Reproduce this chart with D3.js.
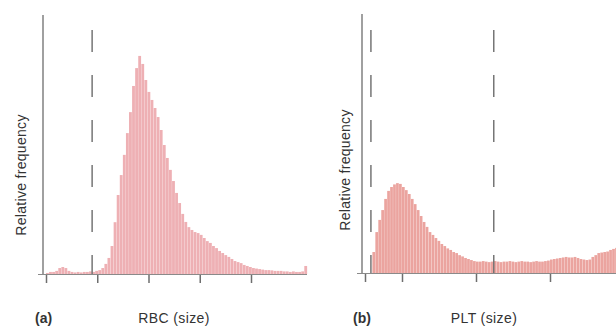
<!DOCTYPE html>
<html>
<head>
<meta charset="utf-8">
<script src="https://cdn.jsdelivr.net/npm/d3@7"></script>
<style>
  html, body { margin: 0; padding: 0; background: #fff; }
  svg { display: block; }
  text { font-family: 'Liberation Sans', Arial, sans-serif; fill: #333; }
</style>
</head>
<body>
<div id="chart"></div>
<script>
// RBC histogram: bins of 3 size units starting at 0
const rbcBinWidth = 3;
const rbcValues = [
  0.4, 0.8, 0.8, 1.2, 2.3, 2.7, 2.3, 1.2, 0.8, 0.6,
  0.8, 0.6, 0.8, 0.8, 1.0, 0.8, 1.2, 1.5, 2.3, 3.9,
  6.2, 10.8, 20.0, 30.5, 38.2, 46.0, 54.4, 62.5, 72.6, 79.5,
  84.2, 81.1, 74.9, 70.3, 67.2, 64.1, 60.6, 55.6, 49.8, 44.8,
  40.2, 35.9, 31.3, 27.4, 23.2, 20.1, 18.1, 17.0, 16.2, 15.8,
  15.1, 13.9, 12.7, 12.0, 10.8, 10.0, 8.9, 8.1, 7.3, 6.6,
  5.8, 5.0, 4.6, 4.2, 3.5, 3.1, 2.7, 2.3, 2.1, 1.9,
  1.7, 1.5, 1.5, 1.4, 1.2, 1.2, 1.2, 1.0, 1.0, 0.8,
  1.0, 0.8, 0.8, 1.0, 3.1
];
const rbcTicks = [0, 50, 100, 150, 200];
const rbcThresholds = [45];

// PLT histogram: bins of 0.4 size units starting at 1.0
const pltStart = 1.0;
const pltBinWidth = 0.4;
const pltValues = [
  8.1, 15.8, 20.5, 24.3, 28.6, 31.7, 33.2, 34.2, 34.7, 34.4,
  33.2, 32.0, 30.5, 28.6, 26.6, 24.3, 22.0, 19.7, 17.8, 15.8,
  14.7, 13.5, 12.4, 11.2, 10.4, 9.5, 8.9, 8.1, 7.7, 6.9,
  6.4, 5.8, 5.4, 5.0, 4.6, 4.4, 4.4, 4.6, 4.4, 4.2,
  4.4, 4.6, 4.4, 4.2, 4.4, 4.4, 4.6, 4.4, 4.2, 4.4,
  4.6, 4.4, 4.4, 4.2, 4.4, 4.6, 4.4, 4.4, 4.6, 4.8,
  5.2, 5.4, 5.6, 5.8, 6.0, 6.2, 6.0, 6.0, 6.2, 5.8,
  5.4, 5.2, 5.0, 5.2, 6.2, 6.9, 7.7, 7.9, 8.1, 8.3,
  8.9, 9.3, 9.7
];
const pltTicks = [0, 5, 15, 25];
const pltThresholds = [0.8, 17.4];

const width = 616, height = 327;

const svg = d3.select('#chart')
  .append('svg')
  .attr('width', width)
  .attr('height', height);

function drawPanel(opts) {
  const g = svg.append('g');

  const x = d3.scaleLinear().domain(opts.xDomain).range(opts.xRange);
  const y = d3.scaleLinear().domain([0, 100]).range([opts.baseline, opts.top]);

  const bins = opts.values.map((v, i) => ({
    x0: opts.start + i * opts.binWidth,
    x1: opts.start + (i + 1) * opts.binWidth,
    v
  }));

  // bars (tiny gap leaves the faint vertical striping of the print)
  g.append('g')
    .selectAll('rect')
    .data(bins)
    .enter()
    .append('rect')
    .attr('x', d => x(d.x0))
    .attr('width', d => Math.max(0, x(d.x1) - x(d.x0) - 0.25))
    .attr('y', d => y(d.v))
    .attr('height', d => y(0) - y(d.v))
    .attr('fill', opts.color);

  // dashed threshold lines
  g.append('g')
    .selectAll('line')
    .data(opts.thresholds)
    .enter()
    .append('line')
    .attr('x1', d => x(d))
    .attr('x2', d => x(d))
    .attr('y1', opts.dashTop)
    .attr('y2', opts.baseline)
    .attr('stroke', '#767676')
    .attr('stroke-width', 1.5)
    .attr('stroke-dasharray', '22,23');

  // y axis line
  g.append('line')
    .attr('x1', opts.yAxisX).attr('x2', opts.yAxisX)
    .attr('y1', opts.top).attr('y2', opts.baseline)
    .attr('stroke', '#808080').attr('stroke-width', 1.5);

  // x axis baseline with small stub left of origin
  g.append('line')
    .attr('x1', opts.yAxisX - 5).attr('x2', opts.axisEnd)
    .attr('y1', opts.baseline + 0.5).attr('y2', opts.baseline + 0.5)
    .attr('stroke', '#8a8a8a').attr('stroke-width', 1.2);

  // ticks
  const axis = d3.axisBottom(x)
    .tickValues(opts.ticks)
    .tickSize(8)
    .tickSizeOuter(0)
    .tickFormat('');

  const ax = g.append('g')
    .attr('transform', `translate(0,${opts.baseline + 1})`)
    .call(axis);
  ax.select('.domain').remove();
  ax.selectAll('.tick line').attr('stroke', '#6e6e6e').attr('stroke-width', 1.5);

  // y label
  g.append('text')
    .attr('transform', `translate(${opts.yLabelX},${opts.yLabelY}) rotate(-90)`)
    .attr('text-anchor', 'middle')
    .attr('font-size', 14)
    .attr('letter-spacing', 0.3)
    .text('Relative frequency');

  // panel letter
  g.append('text')
    .attr('x', opts.letterX)
    .attr('y', 323)
    .attr('font-size', 14)
    .attr('font-weight', 'bold')
    .text(opts.letter);

  // x label
  g.append('text')
    .attr('x', opts.xLabelX)
    .attr('y', 323)
    .attr('text-anchor', 'middle')
    .attr('font-size', 14)
    .attr('letter-spacing', 0.4)
    .text(opts.xLabel);
}

drawPanel({
  values: rbcValues,
  start: 0,
  binWidth: rbcBinWidth,
  xDomain: [0, 200],
  xRange: [46, 251],
  baseline: 274,
  top: 15,
  dashTop: 30,
  yAxisX: 43,
  axisEnd: 307,
  ticks: rbcTicks,
  thresholds: rbcThresholds,
  color: '#eeb0b4',
  yLabelX: 26,
  yLabelY: 175,
  letter: '(a)',
  letterX: 35,
  xLabel: 'RBC (size)',
  xLabelX: 174
});

drawPanel({
  values: pltValues,
  start: pltStart,
  binWidth: pltBinWidth,
  xDomain: [0, 25],
  xRange: [365, 550],
  baseline: 273,
  top: 14,
  dashTop: 30,
  yAxisX: 362,
  axisEnd: 616,
  ticks: pltTicks,
  thresholds: pltThresholds,
  color: '#eba49f',
  yLabelX: 350,
  yLabelY: 170,
  letter: '(b)',
  letterX: 353,
  xLabel: 'PLT (size)',
  xLabelX: 484
});
</script>
</body>
</html>
